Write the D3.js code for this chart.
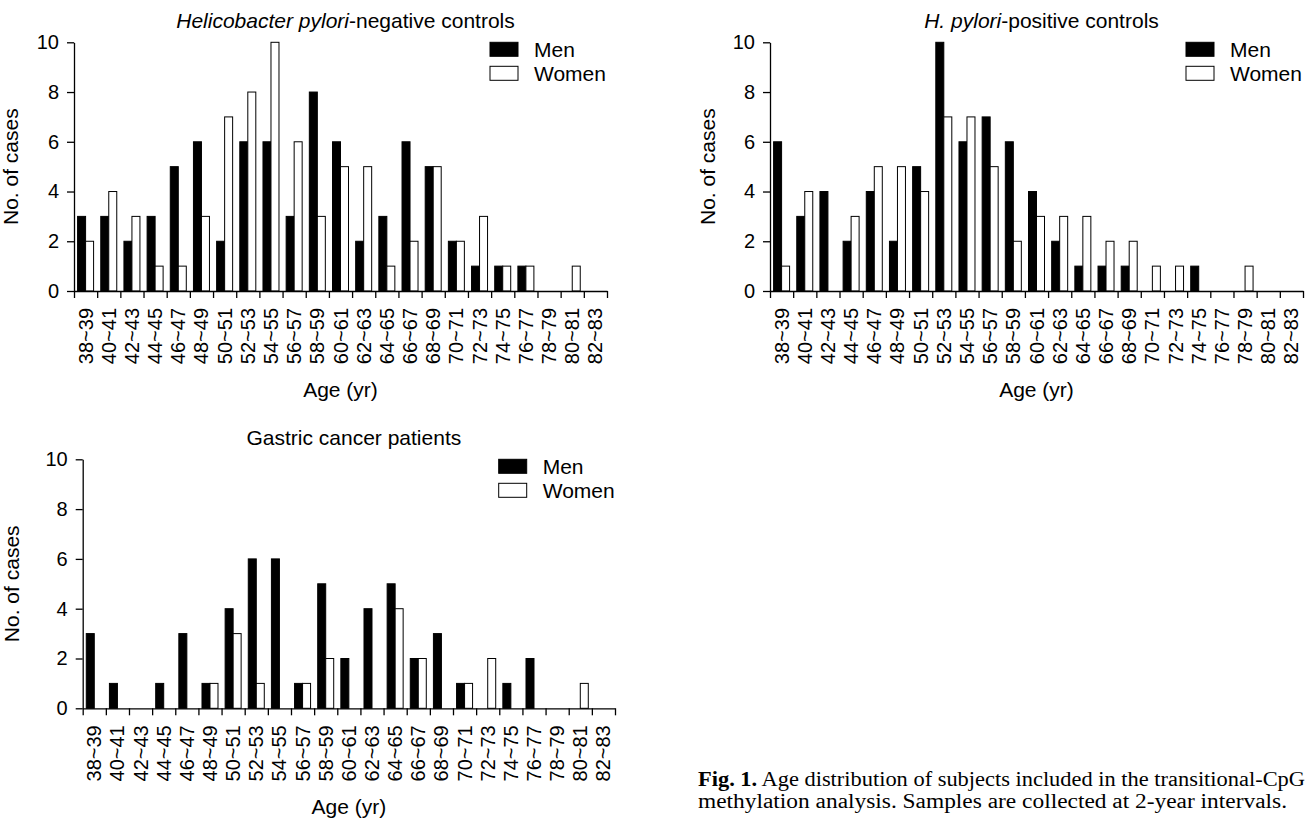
<!DOCTYPE html>
<html>
<head>
<meta charset="utf-8">
<script src="https://cdn.jsdelivr.net/npm/d3@7"></script>
<style>
  body { margin: 0; background: #fff; }
  svg { display: block; font-family: "Liberation Sans", Arial, sans-serif; }
</style>
</head>
<body>
<div id="chart"></div>
<script>
// Age groups (2-year bins)
const ageGroups = ["38~39","40~41","42~43","44~45","46~47","48~49","50~51","52~53","54~55",
  "56~57","58~59","60~61","62~63","64~65","66~67","68~69","70~71","72~73","74~75","76~77",
  "78~79","80~81","82~83"];

// H. pylori-negative controls
const negMen   = [3,3,2,3,5,6,2,6,6,3,8,6,2,3,6,5,2,1,1,1,0,0,0];
const negWomen = [2,4,3,1,1,3,7,8,10,6,3,5,5,1,2,5,2,3,1,1,0,1,0];

// H. pylori-positive controls
const posMen   = [6,3,4,2,4,2,5,10,6,7,6,4,2,1,1,1,0,0,1,0,0,0,0];
const posWomen = [1,4,0,3,5,5,4,7,7,5,2,3,3,3,2,2,1,1,0,0,1,0,0];

// Gastric cancer patients
const gcMen   = [3,1,0,1,3,1,4,6,6,1,5,2,4,5,2,3,1,0,1,2,0,0,0];
const gcWomen = [0,0,0,0,0,1,3,1,0,1,2,0,0,4,2,0,1,2,0,0,0,1,0];

const yTicks = [0, 2, 4, 6, 8, 10];
const seriesNames = ["Men", "Women"];

const W = 1313, H = 821;
const FONT = "Liberation Sans, Arial, sans-serif";
const svg = d3.select("#chart").append("svg")
  .attr("width", W).attr("height", H);

// panel layout: axis box in page pixels
const panels = [
  {title: [["Helicobacter pylori", true], ["-negative controls", false]],
   men: negMen, women: negWomen, x0: 74, x1: 607, yTop: 42.3, yBot: 291, yTitleGap: 56},
  {title: [["H. pylori", true], ["-positive controls", false]],
   men: posMen, women: posWomen, x0: 770, x1: 1303, yTop: 42.3, yBot: 291, yTitleGap: 55},
  {title: [["Gastric cancer patients", false]],
   men: gcMen, women: gcWomen, x0: 82.7, x1: 615, yTop: 459.3, yBot: 708.3, yTitleGap: 64}
];

panels.forEach(p => drawPanel(p));

function drawPanel(p) {
  const g = svg.append("g");
  const data = ageGroups.map((a, i) => ({age: a, men: p.men[i], women: p.women[i]}));

  const x = d3.scaleBand().domain(ageGroups).range([p.x0, p.x1]);
  const edge = d3.scaleLinear().domain([0, ageGroups.length]).range([p.x0, p.x1]);
  const y = d3.scaleLinear().domain([0, 10]).range([p.yBot, p.yTop]);
  const barW = 8;

  // bars
  g.selectAll(".men").data(data).enter().append("rect")
    .attr("x", d => x(d.age) + x.bandwidth() / 2 - barW)
    .attr("y", d => y(d.men))
    .attr("width", barW)
    .attr("height", d => y(0) - y(d.men))
    .attr("fill", "#000")
    .attr("stroke", "#000")
    .attr("stroke-width", 1);
  g.selectAll(".women").data(data.filter(d => d.women > 0)).enter().append("rect")
    .attr("x", d => x(d.age) + x.bandwidth() / 2)
    .attr("y", d => y(d.women))
    .attr("width", barW)
    .attr("height", d => y(0) - y(d.women))
    .attr("fill", "#fff")
    .attr("stroke", "#000")
    .attr("stroke-width", 1);

  // y axis
  const yAx = g.append("g")
    .attr("transform", `translate(${p.x0},0)`)
    .call(d3.axisLeft(y).tickValues(yTicks).tickSize(7).tickPadding(8).tickSizeOuter(0));
  yAx.selectAll("text").attr("font-size", 20).attr("fill", "#000").attr("font-family", FONT);

  // x axis: tick marks at bin edges
  g.append("g")
    .attr("transform", `translate(0,${p.yBot})`)
    .call(d3.axisBottom(edge).tickValues(d3.range(ageGroups.length + 1))
      .tickFormat("").tickSize(7).tickSizeOuter(0));
  // x axis labels at bin centres
  const xLab = g.append("g")
    .attr("transform", `translate(0,${p.yBot})`)
    .call(d3.axisBottom(x).tickSize(0).tickSizeOuter(0));
  xLab.select(".domain").remove();
  xLab.selectAll("text")
    .attr("font-size", 20).attr("fill", "#000").attr("font-family", FONT)
    .attr("transform", "rotate(-90)")
    .attr("x", -17).attr("y", 0).attr("dy", "0.35em")
    .style("text-anchor", "end");

  g.selectAll(".domain, .tick line").attr("stroke", "#000").attr("stroke-width", 1.3);

  // title
  const t = g.append("text")
    .attr("x", (p.x0 + p.x1) / 2 + 5).attr("y", p.yTop - 14)
    .attr("text-anchor", "middle").attr("font-size", 21);
  p.title.forEach(([s, it]) => t.append("tspan").attr("font-style", it ? "italic" : "normal").text(s));

  // axis titles
  g.append("text")
    .attr("transform", `translate(${p.x0 - p.yTitleGap},${(p.yTop + p.yBot) / 2}) rotate(-90)`)
    .attr("text-anchor", "middle").attr("font-size", 21)
    .text("No. of cases");
  g.append("text")
    .attr("x", (p.x0 + p.x1) / 2).attr("y", p.yBot + 106)
    .attr("text-anchor", "middle").attr("font-size", 21)
    .text("Age (yr)");

  // legend
  const lg = g.append("g").attr("transform", `translate(${p.x0 + 416},${p.yTop})`);
  seriesNames.forEach((name, i) => {
    lg.append("rect")
      .attr("x", 0).attr("y", i * 24)
      .attr("width", 28).attr("height", 14)
      .attr("fill", i === 0 ? "#000" : "#fff")
      .attr("stroke", "#000").attr("stroke-width", 1);
    lg.append("text")
      .attr("x", 44).attr("y", i * 24 + 14.5)
      .attr("font-size", 21)
      .text(name);
  });
}

// caption
const CAP_FONT = "'Liberation Serif', 'Times New Roman', serif";
const cap = svg.append("text")
  .attr("x", 698).attr("y", 786)
  .attr("font-family", CAP_FONT)
  .attr("font-size", 20)
  .attr("textLength", 607).attr("lengthAdjust", "spacingAndGlyphs");
cap.append("tspan").attr("font-weight", "bold").text("Fig. 1.");
cap.append("tspan").text(" Age distribution of subjects included in the transitional-CpG");
svg.append("text")
  .attr("x", 698).attr("y", 808)
  .attr("font-family", CAP_FONT)
  .attr("font-size", 20)
  .attr("textLength", 589).attr("lengthAdjust", "spacingAndGlyphs")
  .text("methylation analysis. Samples are collected at 2-year intervals.");
</script>
</body>
</html>
